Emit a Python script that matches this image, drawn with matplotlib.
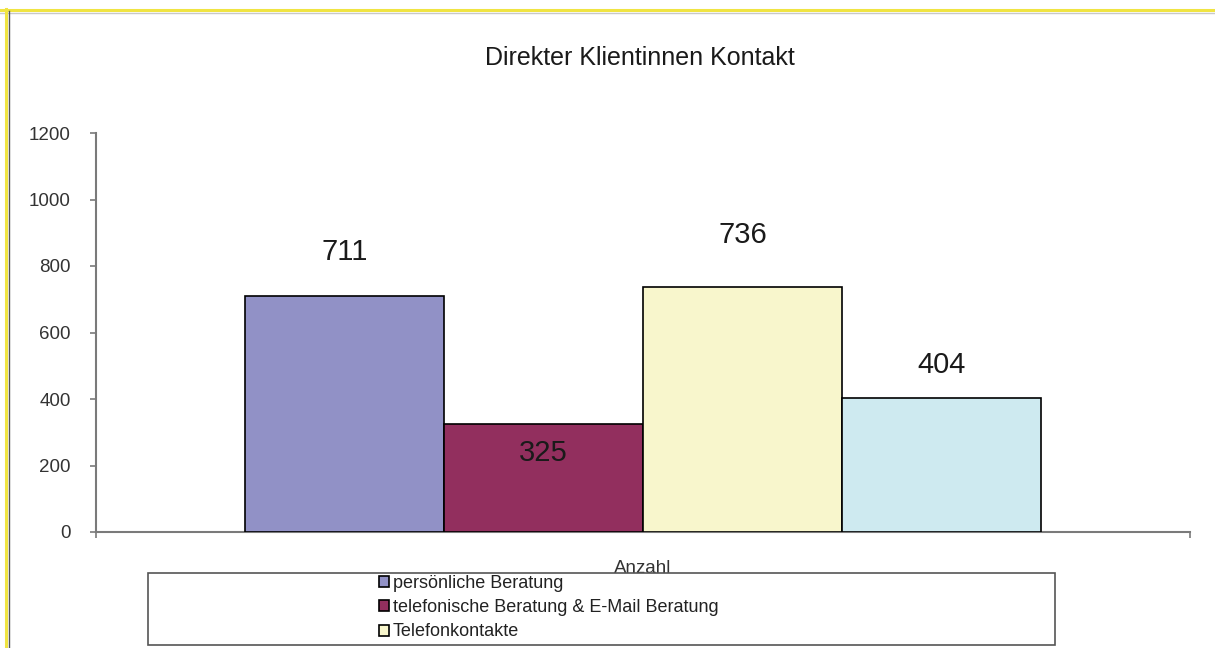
import matplotlib
matplotlib.use("Agg")
import matplotlib.pyplot as plt
from matplotlib.lines import Line2D
from matplotlib.patches import Rectangle

plt.rcParams['font.family'] = ['Liberation Sans', 'DejaVu Sans']

# Daten
kategorien = ['persönliche Beratung',
              'telefonische Beratung & E-Mail Beratung',
              'Telefonkontakte',
              'Sonstige Kontakte']
werte = [711, 325, 736, 404]
farben = ['#9191c6', '#922f5e', '#f8f6cc', '#ceeaf0']
y_ticks = [0, 200, 400, 600, 800, 1000, 1200]

# Versatz der Beschriftungen (Pixel), wie im Original
label_versatz = [44, -29, 52, 33]

fig = plt.figure(figsize=(12.15, 6.48), dpi=100)
ax = fig.add_axes([96/1215, 1 - 532/648, (1190-96)/1215, (532-133)/648])

# Balken nebeneinander in einer Kategorie
n = len(werte)
pos = [i - (n - 1) / 2 for i in range(n)]
balken = ax.bar(pos, werte, width=1.0, color=farben, edgecolor='black',
                linewidth=1.2, zorder=3)

halb = (1190 - 96) / 199 / 2
ax.set_xlim(-halb, halb)
ax.set_ylim(0, 1200)
ax.set_yticks(y_ticks)

for p, w, d in zip(pos, werte, label_versatz):
    ax.annotate(str(w), (p, w), xytext=(0, d * 0.72), textcoords='offset points',
                ha='center', va='center', fontsize=21, color='#1a1a1a', zorder=5)

# Achsen im Excel-Stil
for s in ['top', 'right']:
    ax.spines[s].set_visible(False)
for s in ['left', 'bottom']:
    ax.spines[s].set_color('#7a7a7a')
    ax.spines[s].set_linewidth(1.5)
ax.tick_params(axis='y', direction='out', length=4, width=1.2, color='#7a7a7a',
               labelsize=13.5, labelcolor='#333333', pad=14)
ax.set_xticks([-halb, halb])
ax.set_xticklabels(['', ''])
ax.tick_params(axis='x', which='major', direction='out', length=4, width=1.2,
               color='#7a7a7a')
ax.set_xticks([0], minor=True)
ax.set_xticklabels(['Anzahl'], minor=True)
ax.tick_params(axis='x', which='minor', length=0, labelsize=13.5,
               labelcolor='#333333', pad=20)

fig.text(640/1215, 1 - 58/648, 'Direkter Klientinnen Kontakt', ha='center',
         va='center', fontsize=18, color='#1a1a1a')

# Legendenrahmen
fig.patches.append(Rectangle((148/1215, 1 - 645/648), (1055-148)/1215,
                             (645-573)/648, transform=fig.transFigure,
                             facecolor='white', edgecolor='#555555',
                             linewidth=1.2, zorder=2))
leg = fig.legend(balken[:3], kategorien[:3], loc='upper left',
                 bbox_to_anchor=(370/1215, 1 - 566/648), frameon=False,
                 fontsize=13, handlelength=0.55, handleheight=0.55,
                 handletextpad=0.2, labelspacing=0.4, borderpad=0)
leg.set_zorder(3)
for t in leg.get_texts():
    t.set_color('#222222')

# Rahmen des Screenshots
fig.add_artist(Line2D([0, 1], [1 - 10/648, 1 - 10/648], color='#f0e442',
                      linewidth=2.2, transform=fig.transFigure))
fig.add_artist(Line2D([0, 1], [1 - 12.5/648, 1 - 12.5/648], color='#c8c8c8',
                      linewidth=1, transform=fig.transFigure))
fig.add_artist(Line2D([6/1215, 6/1215], [0, 1 - 9/648], color='#f0e442',
                      linewidth=2.2, transform=fig.transFigure))
fig.add_artist(Line2D([9/1215, 9/1215], [0, 1 - 11/648], color='#555555',
                      linewidth=1, transform=fig.transFigure))

fig.savefig('out.png', dpi=100)
